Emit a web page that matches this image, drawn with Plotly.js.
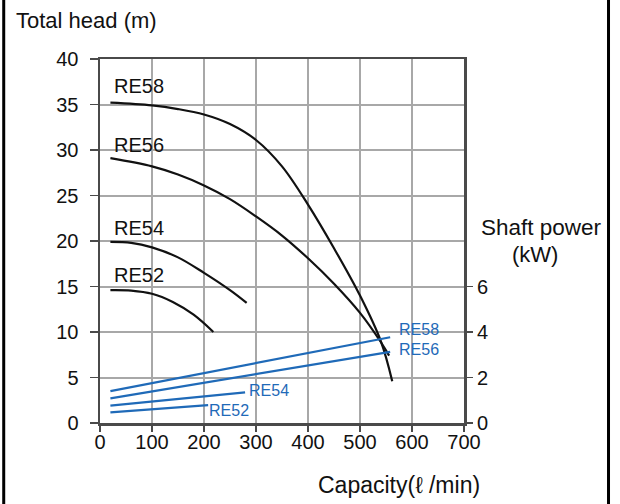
<!DOCTYPE html>
<html>
<head>
<meta charset="utf-8">
<script src="https://cdn.plot.ly/plotly-3.0.1.min.js"></script>
<style>
html,body{margin:0;padding:0;background:#fff;}
#chart{width:620px;height:504px;}
</style>
</head>
<body>
<div id="chart"></div>
<script>
// Head curves (capacity l/min, total head m)
const re58Q = [20, 100, 150, 200, 250, 300, 350, 400, 450, 500, 540, 562];
const re58H = [35.2, 34.9, 34.5, 33.9, 32.85, 31.1, 28.2, 24.0, 19.2, 14.0, 9.0, 4.6];
const re56Q = [20, 100, 150, 200, 250, 300, 350, 400, 450, 500, 540, 556];
const re56H = [29.1, 28.2, 27.3, 26.1, 24.6, 22.7, 20.6, 18.1, 15.3, 12.1, 8.9, 7.4];
const re54Q = [20, 60, 100, 150, 200, 250, 282];
const re54H = [19.9, 19.8, 19.3, 18.2, 16.5, 14.6, 13.2];
const re52Q = [20, 60, 100, 140, 180, 218];
const re52H = [14.6, 14.55, 14.2, 13.3, 11.9, 10.0];
// Shaft power lines (capacity l/min, kW)
const p58Q = [20, 558];
const p58P = [1.40, 3.77];
const p56Q = [20, 558];
const p56P = [1.08, 3.13];
const p54Q = [20, 279];
const p54P = [0.76, 1.35];
const p52Q = [20, 208];
const p52P = [0.47, 0.79];
const headLabels = ['RE58', 'RE56', 'RE54', 'RE52'];
const headLabelY = [37.0, 30.5, 21.4, 16.3];
const powerLabels = ['RE58', 'RE56', 'RE54', 'RE52'];
const powerLabelQ = [571, 571, 283, 206];
const powerLabelP = [4.09, 3.25, 1.41, 0.57];
const xTicks = [0, 100, 200, 300, 400, 500, 600, 700];
const yTicks = [0, 5, 10, 15, 20, 25, 30, 35, 40];
const y2Ticks = [0, 2, 4, 6];

const BLACK = '#111111';
const BLUE = '#1f6ab8';
const FONT = 'Liberation Sans, Arial, sans-serif';

function head(q, h) {
  return {x: q, y: h, mode: 'lines', type: 'scatter', line: {color: BLACK, width: 2.2, shape: 'spline', smoothing: 1}, hoverinfo: 'skip', showlegend: false};
}
function power(q, p) {
  return {x: q, y: p, yaxis: 'y2', mode: 'lines', type: 'scatter', line: {color: BLUE, width: 2.2}, hoverinfo: 'skip', showlegend: false};
}

const data = [
  head(re58Q, re58H), head(re56Q, re56H), head(re54Q, re54H), head(re52Q, re52H),
  power(p58Q, p58P), power(p56Q, p56P), power(p54Q, p54P), power(p52Q, p52P)
];

const annotations = [];
headLabels.forEach((t, i) => annotations.push({
  text: t, x: 24, y: headLabelY[i], xref: 'x', yref: 'y', xanchor: 'left', yanchor: 'middle',
  showarrow: false, font: {family: FONT, size: 20, color: BLACK}
}));
powerLabels.forEach((t, i) => annotations.push({
  text: t, x: powerLabelQ[i], y: powerLabelP[i], xref: 'x', yref: 'y2', xanchor: 'left', yanchor: 'middle',
  showarrow: false, font: {family: FONT, size: 16, color: BLUE}
}));
annotations.push({text: 'Total head (m)', x: -0.236, y: 1.107, xref: 'paper', yref: 'paper', xanchor: 'left', yanchor: 'middle', showarrow: false, font: {family: FONT, size: 22, color: BLACK}});
annotations.push({text: 'Capacity(ℓ /min)', x: 0.821, y: -0.170, xref: 'paper', yref: 'paper', xanchor: 'center', yanchor: 'middle', showarrow: false, font: {family: FONT, size: 23, color: BLACK}});
annotations.push({text: 'Shaft power', x: 1.041, y: 0.536, xref: 'paper', yref: 'paper', xanchor: 'left', yanchor: 'middle', showarrow: false, font: {family: FONT, size: 22.5, color: BLACK}});
annotations.push({text: '(kW)', x: 1.127, y: 0.464, xref: 'paper', yref: 'paper', xanchor: 'left', yanchor: 'middle', showarrow: false, font: {family: FONT, size: 22, color: BLACK}});

const layout = {
  width: 620, height: 504,
  margin: {l: 100, r: 156, t: 59, b: 81},
  paper_bgcolor: '#fff', plot_bgcolor: '#fff',
  xaxis: {
    range: [0, 700], tickvals: xTicks, ticktext: xTicks.map(String),
    showgrid: true, gridcolor: '#a8a8a8', gridwidth: 2,
    showline: true, linecolor: '#4a4a4a', linewidth: 2.5, mirror: true,
    ticks: 'outside', ticklen: 6, tickcolor: '#4a4a4a', tickwidth: 1.5,
    ticklabelstandoff: -7,
    tickfont: {family: FONT, size: 20, color: BLACK}, zeroline: false, fixedrange: true
  },
  yaxis: {
    range: [0, 40], tickvals: yTicks, ticktext: yTicks.map(String),
    showgrid: true, gridcolor: '#a8a8a8', gridwidth: 2,
    showline: true, linecolor: '#4a4a4a', linewidth: 2.5, mirror: true,
    ticks: 'outside', ticklen: 8, tickcolor: '#4a4a4a', tickwidth: 1.5,
    ticklabelstandoff: 7,
    tickfont: {family: FONT, size: 20, color: BLACK}, zeroline: false, fixedrange: true
  },
  yaxis2: {
    range: [0, 16], overlaying: 'y', side: 'right', tickvals: y2Ticks, ticktext: y2Ticks.map(String),
    showgrid: false, showline: false, zeroline: false,
    ticks: 'outside', ticklen: 8, tickcolor: '#4a4a4a', tickwidth: 1.5,
    tickfont: {family: FONT, size: 20, color: BLACK}, fixedrange: true
  },
  annotations: annotations,
  shapes: [
    {type: 'line', xref: 'paper', yref: 'paper', x0: -0.2645, x1: -0.2645, y0: -0.23, y1: 1.17, line: {color: '#000', width: 3}},
    {type: 'line', xref: 'paper', yref: 'paper', x0: 1.397, x1: 1.397, y0: -0.23, y1: 1.17, line: {color: '#000', width: 3}}
  ]
};

Plotly.newPlot('chart', data, layout, {displayModeBar: false, staticPlot: true});
</script>
</body>
</html>
